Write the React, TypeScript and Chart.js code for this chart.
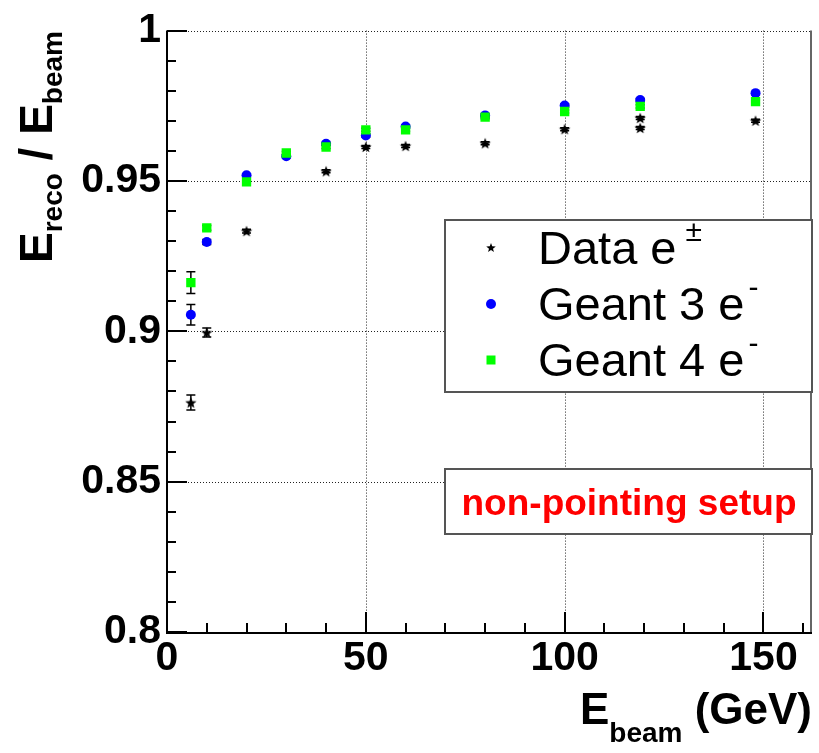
import React, { useEffect, useRef } from 'react';
import { Chart, registerables } from 'chart.js';

Chart.register(...registerables);

// ---- data ----
const dataX = [6, 10, 20, 40, 50, 60, 80, 100, 119, 119, 148];
const dataY = [0.8763, 0.8996, 0.9333, 0.9532, 0.9613, 0.9616, 0.9625, 0.9672, 0.9709, 0.9676, 0.97];
const dataErr = [0.0025, 0.0015, 0.0006, 0.0005, 0.0005, 0.0005, 0.0005, 0.0005, 0.0005, 0.0005, 0.0005];

const g3X = [6, 10, 20, 30, 40, 50, 60, 80, 100, 119, 148];
const g3Y = [0.9055, 0.9297, 0.9519, 0.9582, 0.9624, 0.9651, 0.9681, 0.9718, 0.9751, 0.9769, 0.9792];
const g3Err = [0.0034, 0.0008, 0.0005, 0.0005, 0.0005, 0.0005, 0.0005, 0.0005, 0.0005, 0.0005, 0.0005];

const g4X = [6, 10, 20, 30, 40, 50, 60, 80, 100, 119, 148];
const g4Y = [0.9162, 0.9344, 0.9497, 0.9593, 0.9613, 0.967, 0.967, 0.9712, 0.9731, 0.9748, 0.9764];
const g4Err = [0.0036, 0.0008, 0.0005, 0.0005, 0.0005, 0.0005, 0.0005, 0.0005, 0.0005, 0.0005, 0.0005];

const xTicks = [0, 50, 100, 150];
const yTicks = [0.8, 0.85, 0.9, 0.95, 1];
const yTickLabels = ['0.8', '0.85', '0.9', '0.95', '1'];
const xMinorStep = 10;
const yMinorStep = 0.01;
const xRange = [0, 162.2];
const yRange = [0.8, 1.0];

const legendLabels = ['Data e', 'Geant 3 e', 'Geant 4 e'];
const legendSups = ['\u00b1', '-', '-'];
const noteText = 'non-pointing setup';

const FONT = '"Liberation Sans", Arial, Helvetica, sans-serif';

function drawStar(ctx: CanvasRenderingContext2D, cx: number, cy: number, ro: number, ri: number) {
  ctx.beginPath();
  for (let i = 0; i < 10; i++) {
    const r = i % 2 === 0 ? ro : ri;
    const a = -Math.PI / 2 + (i * Math.PI) / 5;
    const px = cx + r * Math.cos(a);
    const py = cy + r * Math.sin(a);
    if (i === 0) ctx.moveTo(px, py);
    else ctx.lineTo(px, py);
  }
  ctx.closePath();
  ctx.fill();
}

function makeStarCanvas(ro: number, ri: number) {
  const c = document.createElement('canvas');
  const s = Math.ceil(ro * 2 + 2);
  c.width = s;
  c.height = s;
  const cx = c.getContext('2d')!;
  cx.fillStyle = '#000';
  drawStar(cx, s / 2, s / 2 + 0.5, ro, ri);
  return c;
}

const errErrors = [dataErr, g3Err, g4Err];

const framePlugin = {
  id: 'frame',
  beforeDatasetsDraw(chart: any) {
    const { ctx, chartArea, scales } = chart;
    const { left, right, top, bottom } = chartArea;
    const x = scales.x;
    const y = scales.y;
    ctx.save();
    // dotted grid
    ctx.setLineDash([1, 2]);
    ctx.lineWidth = 1;
    ctx.strokeStyle = '#222';
    xTicks.forEach((v) => {
      if (v === xRange[0]) return;
      const px = Math.round(x.getPixelForValue(v)) + 0.5;
      ctx.beginPath();
      ctx.moveTo(px, top);
      ctx.lineTo(px, bottom);
      ctx.stroke();
    });
    yTicks.forEach((v) => {
      if (v === yRange[0]) return;
      const py = Math.round(y.getPixelForValue(v)) + 0.5;
      ctx.beginPath();
      ctx.moveTo(left, py);
      ctx.lineTo(right, py);
      ctx.stroke();
    });
    ctx.setLineDash([]);
    // right frame
    ctx.strokeStyle = '#666';
    ctx.lineWidth = 2;
    ctx.beginPath();
    ctx.moveTo(right - 1, top);
    ctx.lineTo(right - 1, bottom);
    ctx.stroke();
    // axes
    ctx.strokeStyle = '#000';
    ctx.lineWidth = 2;
    ctx.beginPath();
    ctx.moveTo(left, top);
    ctx.lineTo(left, bottom + 1);
    ctx.lineTo(right, bottom + 1);
    ctx.stroke();
    // ticks
    ctx.lineWidth = 2;
    for (let v = xRange[0]; v <= xRange[1] + 1e-9; v += xMinorStep) {
      const major = xTicks.some((t) => Math.abs(t - v) < 1e-6);
      const px = Math.round(x.getPixelForValue(v));
      const len = major ? 20 : 9;
      ctx.beginPath();
      ctx.moveTo(px, bottom);
      ctx.lineTo(px, bottom - len);
      ctx.stroke();
    }
    for (let i = 0; yRange[0] + i * yMinorStep <= yRange[1] + 1e-9; i++) {
      const v = yRange[0] + i * yMinorStep;
      const major = yTicks.some((t) => Math.abs(t - v) < 1e-6);
      const py = Math.round(y.getPixelForValue(v));
      const len = major ? 20 : 9;
      ctx.beginPath();
      ctx.moveTo(left, py);
      ctx.lineTo(left + len, py);
      ctx.stroke();
    }
    // error bars
    ctx.strokeStyle = '#000';
    ctx.lineWidth = 1.5;
    chart.data.datasets.forEach((ds: any) => {
      const errs = errErrors[ds.errIndex];
      ds.data.forEach((p: any, i: number) => {
        const e = errs[i];
        const px = x.getPixelForValue(p.x);
        const y1 = y.getPixelForValue(p.y - e);
        const y2 = y.getPixelForValue(p.y + e);
        ctx.beginPath();
        ctx.moveTo(px, y1);
        ctx.lineTo(px, y2);
        ctx.moveTo(px - 4.5, y1);
        ctx.lineTo(px + 4.5, y1);
        ctx.moveTo(px - 4.5, y2);
        ctx.lineTo(px + 4.5, y2);
        ctx.stroke();
      });
    });
    ctx.restore();
  },
  afterDraw(chart: any) {
    const { ctx, chartArea } = chart;
    ctx.save();
    ctx.fillStyle = '#000';
    ctx.textBaseline = 'alphabetic';
    ctx.textAlign = 'left';

    // y title (rotated)
    ctx.save();
    ctx.translate(52, 263);
    ctx.rotate(-Math.PI / 2);
    let cx = 0;
    const segY = (t: string, size: number, dy: number) => {
      ctx.font = `bold ${size}px ${FONT}`;
      ctx.fillText(t, cx, dy);
      cx += ctx.measureText(t).width;
    };
    segY('E', 46, 0);
    segY('reco', 28, 10);
    segY(' / ', 46, 0);
    segY('E', 46, 0);
    segY('beam', 28, 10);
    ctx.restore();

    // x title
    const parts: [string, number, number][] = [
      ['E', 44, 0],
      ['beam', 28, 18],
      [' (GeV)', 44, 0],
    ];
    let total = 0;
    parts.forEach(([t, s]) => {
      ctx.font = `bold ${s}px ${FONT}`;
      total += ctx.measureText(t).width;
    });
    let xx = chartArea.right - total;
    parts.forEach(([t, s, dy]) => {
      ctx.font = `bold ${s}px ${FONT}`;
      ctx.fillText(t, xx, 724 + dy);
      xx += ctx.measureText(t).width;
    });

    // legend box
    const bx = 445, by = 220, bw = chartArea.right - 445, bh = 172;
    ctx.fillStyle = '#fff';
    ctx.fillRect(bx, by, bw, bh);
    ctx.strokeStyle = '#555';
    ctx.lineWidth = 2;
    ctx.strokeRect(bx, by, bw, bh);
    const rows = [264, 320, 376];
    const mx = 491;
    rows.forEach((base, i) => {
      const my = base - 16;
      if (i === 0) {
        ctx.fillStyle = '#000';
        drawStar(ctx, mx, my, 5, 2.1);
      } else if (i === 1) {
        ctx.fillStyle = '#0000ff';
        ctx.beginPath();
        ctx.arc(mx, my, 5, 0, Math.PI * 2);
        ctx.fill();
      } else {
        ctx.fillStyle = '#00ff00';
        ctx.fillRect(mx - 4.5, my - 4.5, 9, 9);
      }
      ctx.fillStyle = '#000';
      ctx.font = `47px ${FONT}`;
      ctx.fillText(legendLabels[i], 538, base);
      const w = ctx.measureText(legendLabels[i]).width;
      ctx.font = `30px ${FONT}`;
      ctx.fillText(legendSups[i], 538 + w + (i === 0 ? 9 : 4), base - 23);
    });

    // note box
    const nx = 445, ny = 469, nw = chartArea.right - 445, nh = 65;
    ctx.fillStyle = '#fff';
    ctx.fillRect(nx, ny, nw, nh);
    ctx.strokeStyle = '#555';
    ctx.lineWidth = 2;
    ctx.strokeRect(nx, ny, nw, nh);
    ctx.fillStyle = '#ff0000';
    ctx.font = `bold 37px ${FONT}`;
    ctx.textAlign = 'center';
    ctx.fillText(noteText, 629, 515);
    ctx.restore();
  },
};

export default function App() {
  const ref = useRef<HTMLCanvasElement | null>(null);
  useEffect(() => {
    if (!ref.current) return;
    const starImg = makeStarCanvas(6, 2.6);
    const toPts = (xs: number[], ys: number[]) => xs.map((v, i) => ({ x: v, y: ys[i] }));
    const chart = new Chart(ref.current, {
      type: 'scatter',
      data: {
        datasets: [
          {
            label: 'Data e±',
            data: toPts(dataX, dataY),
            pointStyle: starImg as any,
            pointRadius: 6,
            order: 2,
            errIndex: 0,
          } as any,
          {
            label: 'Geant 3 e-',
            data: toPts(g3X, g3Y),
            pointStyle: 'circle',
            pointRadius: 5,
            backgroundColor: '#0000ff',
            borderWidth: 0,
            order: 1,
            errIndex: 1,
          } as any,
          {
            label: 'Geant 4 e-',
            data: toPts(g4X, g4Y),
            pointStyle: 'rect',
            pointRadius: 6.6,
            backgroundColor: '#00ff00',
            borderWidth: 0,
            order: 0,
            errIndex: 2,
          } as any,
        ],
      },
      options: {
        responsive: false,
        devicePixelRatio: 1,
        animation: false,
        events: [],
        layout: { padding: { left: 0, top: 29, right: 4, bottom: 0 } },
        plugins: { legend: { display: false }, tooltip: { enabled: false }, title: { display: false } },
        scales: {
          x: {
            type: 'linear',
            min: xRange[0],
            max: xRange[1],
            grid: { display: false, drawTicks: false },
            border: { display: false },
            afterBuildTicks: (s: any) => {
              s.ticks = xTicks.map((v) => ({ value: v }));
            },
            afterFit: (s: any) => {
              s.height = 121;
            },
            ticks: {
              padding: 2,
              color: '#000',
              font: { family: FONT, size: 41, weight: 'bold' },
              callback: (v: any) => String(v),
              maxRotation: 0,
              autoSkip: false,
            },
          },
          y: {
            type: 'linear',
            min: yRange[0],
            max: yRange[1],
            grid: { display: false, drawTicks: false },
            border: { display: false },
            afterBuildTicks: (s: any) => {
              s.ticks = yTicks.map((v) => ({ value: v }));
            },
            afterFit: (s: any) => {
              s.width = 167;
            },
            ticks: {
              padding: 6,
              color: '#000',
              font: { family: FONT, size: 41, weight: 'bold' },
              callback: (v: any) => {
                const i = yTicks.findIndex((t) => Math.abs(t - v) < 1e-6);
                return i >= 0 ? yTickLabels[i] : '';
              },
              autoSkip: false,
            },
          },
        },
      },
      plugins: [framePlugin],
    });
    return () => chart.destroy();
  }, []);
  return (
    <div style={{ position: 'absolute', left: 0, top: 0, width: 819, height: 753, background: '#fff' }}>
      <canvas ref={ref} width={819} height={753} style={{ display: 'block', width: 819, height: 753 }} />
    </div>
  );
}
